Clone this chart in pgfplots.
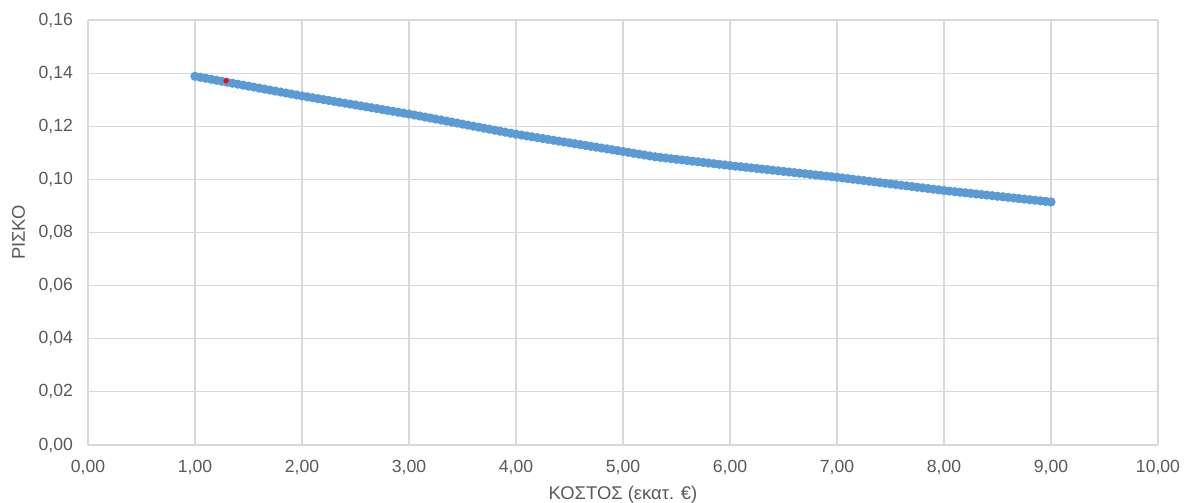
\documentclass[border=0pt]{standalone}
\usepackage{pgfplots}
\pgfplotsset{compat=1.18}
\usepackage{fontspec}
\setmainfont{Liberation Sans}
\definecolor{serblue}{HTML}{5B9BD5}
\definecolor{gridgray}{HTML}{D9D9D9}
\definecolor{txtgray}{HTML}{595959}
\begin{document}
\begin{tikzpicture}
\begin{axis}[
  at={(0,0)}, anchor=south west,
  scale only axis, width=535pt, height=212.5pt,
  xmin=0, xmax=10, ymin=0, ymax=0.16,
  xtick={0,1,...,10}, ytick={0,0.02,...,0.16},
  grid=major,
  major grid style={gridgray, line width=0.6pt},
  axis line style={gridgray, line width=0.6pt},
  axis x line*=bottom, axis y line*=left,
  tick style={draw=none},
  /pgf/number format/assume math mode=true,
  /pgf/number format/.cd, fixed, fixed zerofill, precision=2, use comma, 1000 sep={},
  /pgfplots/.cd,
  ticklabel style={font=\fontsize{8.8}{10}\selectfont, text=txtgray},
  scaled y ticks=false,
  xticklabel style={yshift=-4pt},
  yticklabel style={xshift=-4pt},
  xlabel={ΚΟΣΤΟΣ (εκατ. €)},
  ylabel={ΡΙΣΚΟ},
  label style={font=\fontsize{9.2}{11}\selectfont, text=txtgray},
  xlabel style={yshift=1pt},
  ylabel style={yshift=0pt},
  clip=false,
]
\addplot[only marks, mark=*, mark size=2.1pt, mark options={draw=serblue, fill=serblue}] coordinates {
(1.00,0.1388)(1.05,0.13843)(1.10,0.13806)(1.15,0.13769)(1.20,0.13732)(1.25,0.13695)(1.30,0.13658)(1.35,0.13621)(1.40,0.13584)(1.45,0.13547)
(1.50,0.13510)(1.55,0.13473)(1.60,0.13436)(1.65,0.13399)(1.70,0.13362)(1.75,0.13325)(1.80,0.13288)(1.85,0.13251)(1.90,0.13214)(1.95,0.13177)
(2.00,0.1314)(2.05,0.13106)(2.10,0.13072)(2.15,0.13038)(2.20,0.13004)(2.25,0.12970)(2.30,0.12936)(2.35,0.12902)(2.40,0.12868)(2.45,0.12834)
(2.50,0.12800)(2.55,0.12766)(2.60,0.12732)(2.65,0.12698)(2.70,0.12664)(2.75,0.12630)(2.80,0.12596)(2.85,0.12562)(2.90,0.12528)(2.95,0.12494)
(3.00,0.1246)(3.05,0.12422)(3.10,0.12384)(3.15,0.12346)(3.20,0.12308)(3.25,0.12270)(3.30,0.12232)(3.35,0.12194)(3.40,0.12156)(3.45,0.12118)
(3.50,0.12080)(3.55,0.12042)(3.60,0.12004)(3.65,0.11966)(3.70,0.11928)(3.75,0.11890)(3.80,0.11852)(3.85,0.11814)(3.90,0.11776)(3.95,0.11738)
(4.00,0.1170)(4.05,0.11668)(4.10,0.11635)(4.15,0.11603)(4.20,0.11570)(4.25,0.11538)(4.30,0.11505)(4.35,0.11473)(4.40,0.11440)(4.45,0.11408)
(4.50,0.11375)(4.55,0.11343)(4.60,0.11310)(4.65,0.11278)(4.70,0.11245)(4.75,0.11213)(4.80,0.11180)(4.85,0.11148)(4.90,0.11115)(4.95,0.11083)
(5.00,0.1105)(5.05,0.11017)(5.10,0.10983)(5.15,0.10950)(5.20,0.10917)(5.25,0.10883)(5.30,0.1085)(5.35,0.10826)(5.40,0.10803)(5.45,0.10779)
(5.50,0.10756)(5.55,0.10732)(5.60,0.10709)(5.65,0.10685)(5.70,0.10661)(5.75,0.10638)(5.80,0.10614)(5.85,0.10591)(5.90,0.10567)(5.95,0.10544)
(6.00,0.1052)(6.05,0.10498)(6.10,0.10476)(6.15,0.10454)(6.20,0.10432)(6.25,0.10410)(6.30,0.10388)(6.35,0.10366)(6.40,0.10344)(6.45,0.10322)
(6.50,0.10300)(6.55,0.10278)(6.60,0.10256)(6.65,0.10234)(6.70,0.10212)(6.75,0.10190)(6.80,0.10168)(6.85,0.10146)(6.90,0.10124)(6.95,0.10102)
(7.00,0.1008)(7.05,0.10055)(7.10,0.10030)(7.15,0.10005)(7.20,0.09980)(7.25,0.09955)(7.30,0.09930)(7.35,0.09905)(7.40,0.09880)(7.45,0.09855)
(7.50,0.09830)(7.55,0.09805)(7.60,0.09780)(7.65,0.09755)(7.70,0.09730)(7.75,0.09705)(7.80,0.09680)(7.85,0.09655)(7.90,0.09630)(7.95,0.09605)
(8.00,0.0958)(8.05,0.09559)(8.10,0.09537)(8.15,0.09516)(8.20,0.09494)(8.25,0.09473)(8.30,0.09451)(8.35,0.09430)(8.40,0.09408)(8.45,0.09387)
(8.50,0.09365)(8.55,0.09344)(8.60,0.09322)(8.65,0.09301)(8.70,0.09279)(8.75,0.09258)(8.80,0.09236)(8.85,0.09215)(8.90,0.09193)(8.95,0.09172)
(9.00,0.0915)
};
\addplot[only marks, mark=*, mark size=1.1pt, mark options={draw=red, fill=red}] coordinates {(1.29,0.1371)};
\end{axis}
\pgfresetboundingbox
\path (-44pt,-29pt) rectangle (548pt,222.5pt);
\end{tikzpicture}
\end{document}
